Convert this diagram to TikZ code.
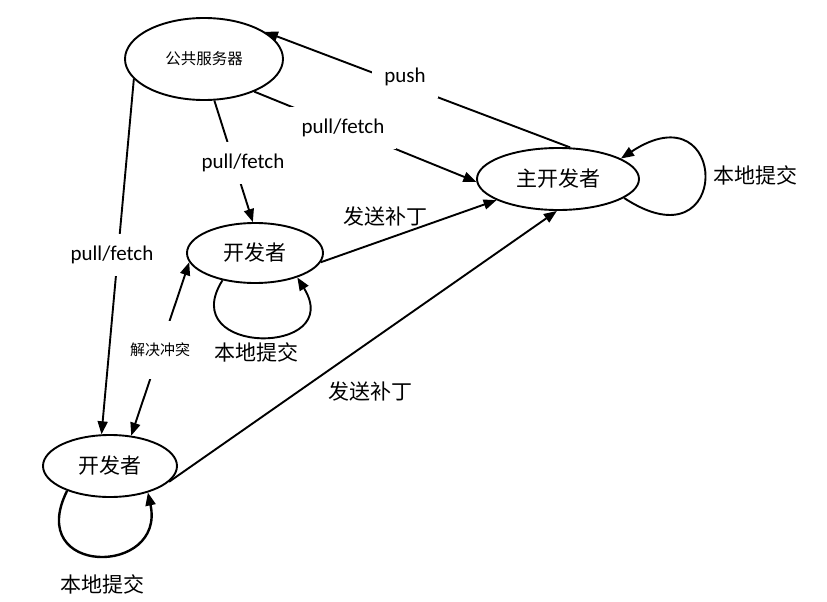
\documentclass[tikz,border=0pt]{standalone}
\usepackage{fontspec}
\setmainfont{Carlito}
\newfontfamily\cjk{Noto Sans CJK SC}
\usetikzlibrary{arrows.meta,shapes.geometric}
\begin{document}
\begin{tikzpicture}[x=1pt,y=-1pt,
  every node/.style={inner sep=0pt},
  st/.style={ellipse, draw, line width=1.9pt, inner sep=0pt},
  tip/.style={-{Triangle[length=13pt,width=10pt]}},
  conn/.style={line width=1.9pt, tip},
  lbl/.style={fill=white, inner xsep=12pt, inner ysep=12pt, font=\fontsize{21}{24}\selectfont},
  cn/.style={font=\cjk\fontsize{21}{24}\selectfont}
]
\useasboundingbox (0,0) rectangle (827,602);

\node[st, minimum width=158pt, minimum height=82pt, font=\cjk\fontsize{15.5}{18}\selectfont] (srv) at (204,59) {公共服务器};
\node[st, minimum width=162pt, minimum height=62pt, cn] (pm) at (558,179) {主开发者};
\node[st, minimum width=136pt, minimum height=60pt, cn] (mid) at (255,253) {开发者};
\node[st, minimum width=134pt, minimum height=62pt, cn] (bot) at (110,466) {开发者};

\draw[conn] (pm.69) -- (srv.24);
\draw[conn] (srv.-33) -- (pm.182);
\draw[conn] (srv.-76) -- (mid.94);
\draw[conn] (srv.196) -- (bot.105);
\draw[conn] (mid.-8) -- (pm.199);
\draw[conn] (bot.-15) -- (pm.268);
\draw[line width=1.9pt, {Triangle[length=13pt,width=10pt]}-{Triangle[length=13pt,width=10pt]}] (mid.188) -- (bot.55);

\draw[conn] (pm.-16) .. controls +(109,72) and +(109,-72) .. (pm.18);
\draw[conn] (mid.220) .. controls +(-48,76) and +(49,79) .. (mid.-30);
\draw[conn, line width=2.4pt] (bot.210) .. controls +(-43,86) and +(18,84) .. (bot.-35);

\node[lbl] (lpush) at (405,77) {push};
\node[lbl] (lpf1) at (343,128) {pull/fetch};
\node[lbl] (lpf2) at (243,163) {pull/fetch};
\node[lbl] (lpf3) at (112,255) {pull/fetch};
\node[cn] (ls1) at (385,217) {发送补丁};
\node[cn] (ls2) at (370,392) {发送补丁};
\node[cn] (lc1) at (755,175) {本地提交};
\node[cn] (lc2) at (256,352) {本地提交};
\node[cn] (lc3) at (102,584) {本地提交};
\node[fill=white, inner xsep=3pt, inner ysep=22pt, font=\cjk\fontsize{15}{17}\selectfont] (lres) at (160,350) {解决冲突};
\end{tikzpicture}
\end{document}
